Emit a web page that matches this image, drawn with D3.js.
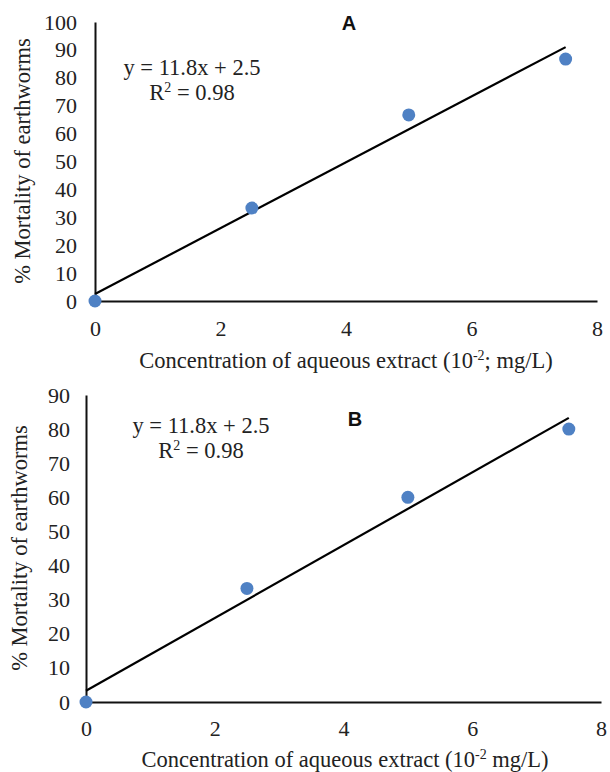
<!DOCTYPE html>
<html>
<head>
<meta charset="utf-8">
<script src="https://cdn.jsdelivr.net/npm/d3@7"></script>
<style>
  html, body { margin: 0; padding: 0; background: #fff; }
  svg { display: block; }
</style>
</head>
<body>
<svg id="chart" width="610" height="772"></svg>
<script>
// ---- data ----
const concentrations = [0, 2.5, 5, 7.5];
const mortalityA = [0, 33.3, 66.7, 86.7];
const mortalityB = [0, 33.3, 60, 80];
const trendX = [0, 7.5];
const trendA = [2.5, 91];
const trendB = [3.3, 83.3];
const xTicks = [0, 2, 4, 6, 8];
const yTicksA = [0, 10, 20, 30, 40, 50, 60, 70, 80, 90, 100];
const yTicksB = [0, 10, 20, 30, 40, 50, 60, 70, 80, 90];
const panelLabels = ["A", "B"];
const equationText = "y = 11.8x + 2.5";
const r2Value = "0.98";
const yTitle = "% Mortality of earthworms";
const xTitleA = ["Concentration of aqueous extract (10", "-2", "; mg/L)"];
const xTitleB = ["Concentration of aqueous extract (10", "-2", " mg/L)"];

// ---- layout ----
const SERIF = "'Liberation Serif', 'Times New Roman', Times, serif";
const panels = [
  { label: panelLabels[0], ys: mortalityA, trend: trendA, yTicks: yTicksA, yMax: 100,
    x0: 95, x1: 597, yBottom: 301, yTop: 22, tickPadY: 18, xLabOff: 27,
    labelPos: [349, 30], eqPos: [192, 75], r2Pos: [192, 100],
    yTitlePos: [30, 161], xTitlePos: [346, 368], xTitle: xTitleA },
  { label: panelLabels[1], ys: mortalityB, trend: trendB, yTicks: yTicksB, yMax: 90,
    x0: 86, x1: 601, yBottom: 702, yTop: 395, tickPadY: 16, xLabOff: 26,
    labelPos: [355, 426], eqPos: [201, 433], r2Pos: [201, 458],
    yTitlePos: [27, 548], xTitlePos: [345, 767], xTitle: xTitleB }
];

const svg = d3.select("#chart");

panels.forEach(p => {
  const x = d3.scaleLinear().domain([0, 8]).range([p.x0, p.x1]);
  const y = d3.scaleLinear().domain([0, p.yMax]).range([p.yBottom, p.yTop]);
  const g = svg.append("g");

  // y axis
  const yAxis = g.append("g")
    .attr("transform", `translate(${p.x0},0)`)
    .call(d3.axisLeft(y).tickValues(p.yTicks).tickSize(0).tickPadding(p.tickPadY).tickFormat(d3.format("d")));
  yAxis.attr("font-family", null).attr("font-size", null);
  yAxis.select(".domain").attr("stroke", "#111").attr("stroke-width", 2);
  yAxis.selectAll("text").style("font-family", SERIF).style("font-size", "22px").attr("fill", "#222");

  // x axis
  const xAxis = g.append("g")
    .attr("transform", `translate(0,${p.yBottom})`)
    .call(d3.axisBottom(x).tickValues(xTicks).tickSize(0).tickFormat(d3.format("d")));
  xAxis.attr("font-family", null).attr("font-size", null);
  xAxis.select(".domain").attr("stroke", "#111").attr("stroke-width", 2);
  xAxis.selectAll("text").style("font-family", SERIF).style("font-size", "22px").attr("fill", "#222")
    .attr("y", p.xLabOff).attr("dy", "0.35em");

  // trend line
  g.append("line")
    .attr("x1", x(trendX[0])).attr("y1", y(p.trend[0]))
    .attr("x2", x(trendX[1])).attr("y2", y(p.trend[1]))
    .attr("stroke", "#000").attr("stroke-width", 2.2);

  // points
  g.selectAll("circle.pt").data(concentrations.map((c, i) => [c, p.ys[i]]))
    .join("circle").attr("class", "pt")
    .attr("cx", d => x(d[0])).attr("cy", d => y(d[1]))
    .attr("r", 6.5).attr("fill", "#4f81c4");

  // panel label
  g.append("text").attr("x", p.labelPos[0]).attr("y", p.labelPos[1])
    .attr("text-anchor", "middle")
    .style("font-family", "'Liberation Sans', Arial, sans-serif")
    .style("font-weight", "bold").style("font-size", "20px").attr("fill", "#111")
    .text(p.label);

  // equation
  g.append("text").attr("x", p.eqPos[0]).attr("y", p.eqPos[1])
    .attr("text-anchor", "middle").style("font-family", SERIF).style("font-size", "22.5px")
    .attr("fill", "#222").text(equationText);
  const r2 = g.append("text").attr("x", p.r2Pos[0]).attr("y", p.r2Pos[1])
    .attr("text-anchor", "middle").style("font-family", SERIF).style("font-size", "22.5px")
    .attr("fill", "#222");
  r2.append("tspan").text("R");
  r2.append("tspan").attr("dy", -8).style("font-size", "14px").text("2");
  r2.append("tspan").attr("dy", 8).text(" = " + r2Value);

  // y title
  g.append("text")
    .attr("transform", `translate(${p.yTitlePos[0]},${p.yTitlePos[1]}) rotate(-90)`)
    .attr("text-anchor", "middle").style("font-family", SERIF).style("font-size", "22.5px")
    .attr("fill", "#222").text(yTitle);

  // x title
  const xt = g.append("text")
    .attr("x", p.xTitlePos[0]).attr("y", p.xTitlePos[1])
    .attr("text-anchor", "middle").style("font-family", SERIF).style("font-size", "22.5px")
    .attr("fill", "#222");
  xt.append("tspan").text(p.xTitle[0]);
  xt.append("tspan").attr("dy", -8).style("font-size", "14px").text(p.xTitle[1]);
  xt.append("tspan").attr("dy", 8).text(p.xTitle[2]);
});
</script>
</body>
</html>
